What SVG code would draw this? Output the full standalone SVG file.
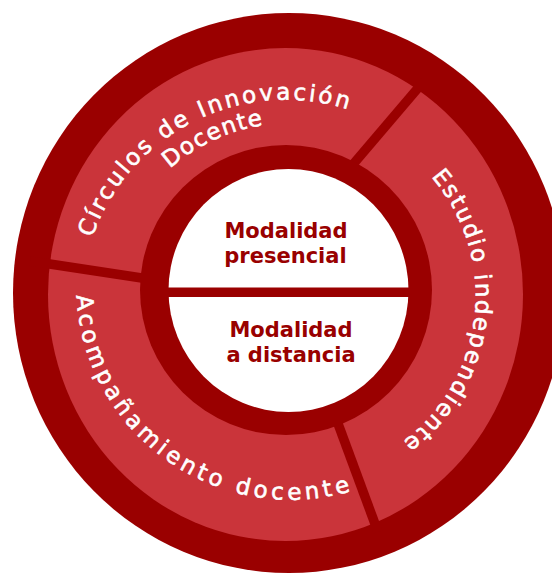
<svg xmlns="http://www.w3.org/2000/svg" width="552" height="575" viewBox="0 0 552 575">
<style>
.dark{fill:#9a0000}
.light{fill:#ca343a}
.white{fill:#ffffff}
.div{stroke:#9a0000;stroke-width:9.5;stroke-linecap:butt}
.arc{font-family:"DejaVu Sans","Liberation Sans",sans-serif;font-size:23px;fill:#ffffff;stroke:#ffffff;stroke-width:0.6}
.core{font-family:"DejaVu Sans","Liberation Sans",sans-serif;font-size:21px;font-weight:bold;fill:#990000;text-anchor:middle}
</style>
<defs>
<path id="p1" d="M95.0,379.5 A205,205 0 0 1 461.2,198.5" fill="none"/>
<path id="p2" d="M118.8,366.6 A182,182 0 0 1 447.9,214.5" fill="none"/>
<path id="p3" d="M330.0,117.6 A182,182 0 0 1 289.6,477.9" fill="none"/>
<path id="p4" d="M105.2,177.7 A214.5,214.5 0 0 0 455.3,422.9" fill="none"/>
</defs>
<rect width="552" height="575" fill="#ffffff"/>
<g id="rings">
<ellipse class="dark" cx="289" cy="293" rx="276" ry="280"/>
<ellipse class="light" cx="285.5" cy="294.5" rx="237.5" ry="246.5"/>
</g>
<g id="dividers">
<line class="div" x1="338" y1="182" x2="424" y2="81"/>
<line class="div" x1="30" y1="261" x2="155" y2="280"/>
<line class="div" x1="330" y1="402" x2="378" y2="532"/>
</g>
<g id="core">
<ellipse class="dark" cx="286" cy="290" rx="146" ry="145"/>
<ellipse class="white" cx="288.5" cy="290.5" rx="120" ry="121.5"/>
<rect class="dark" x="160" y="287.5" width="256" height="9.5"/>
</g>
<g id="node-presencial">
<text class="core" x="286" y="238">Modalidad</text>
<text class="core" x="285.5" y="263">presencial</text>
</g>
<g id="node-distancia">
<text class="core" x="291" y="337">Modalidad</text>
<text class="core" x="291" y="362">a distancia</text>
</g>
<g id="node-circulos">
<text class="arc" style="letter-spacing:2.7px"><textPath href="#p1" startOffset="50%" text-anchor="middle">Círculos de Innovación</textPath></text>
<text class="arc" style="letter-spacing:1.3px"><textPath href="#p2" startOffset="50%" text-anchor="middle">Docente</textPath></text>
</g>
<g id="node-estudio">
<text class="arc" style="letter-spacing:2px"><textPath href="#p3" startOffset="50%" text-anchor="middle">Estudio independiente</textPath></text>
</g>
<g id="node-acompanamiento">
<text class="arc" style="letter-spacing:4px"><textPath href="#p4" startOffset="50%" text-anchor="middle">Acompañamiento docente</textPath></text>
</g>
</svg>
